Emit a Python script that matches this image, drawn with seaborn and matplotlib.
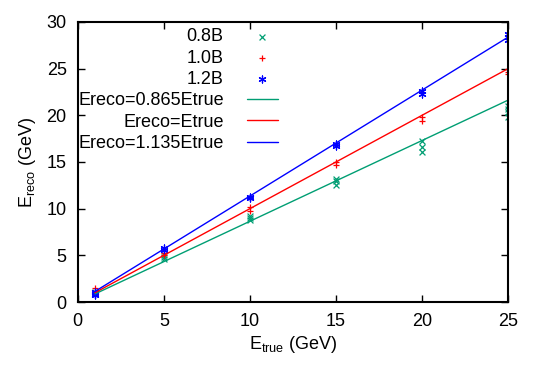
import numpy as np
import pandas as pd
import matplotlib
matplotlib.use('Agg')
import matplotlib.pyplot as plt
import seaborn as sns

# Data
e_true_08 = [1, 1, 1, 5, 5, 5, 10, 10, 10, 15, 15, 15, 20, 20, 20, 25, 25, 25, 25]
e_reco_08 = [0.9, 1.0, 1.1, 4.6, 4.8, 5.0, 8.8, 9.0, 9.2, 12.5, 13.0, 13.2,
             16.1, 16.6, 17.2, 19.8, 20.3, 20.7, 21.0]
e_true_10 = [1, 1, 5, 5, 10, 10, 15, 15, 20, 20, 25, 25]
e_reco_10 = [1.0, 1.5, 5.0, 5.3, 9.8, 10.2, 14.7, 15.0, 19.4, 19.8, 24.4, 24.6]
e_true_12 = [1, 1, 1, 5, 5, 10, 10, 15, 15, 20, 20, 25, 25, 25]
e_reco_12 = [0.8, 0.9, 1.1, 5.6, 5.8, 11.1, 11.3, 16.7, 16.9, 22.3, 22.6, 28.1, 28.4, 28.7]

fit_x = [1, 25]
slopes = [0.865, 1.0, 1.135]
fit_labels = ['Ereco=0.865Etrue', 'Ereco=Etrue', 'Ereco=1.135Etrue']

green = '#009e73'
red = '#ff0000'
blue = '#0000ff'

sns.set_style('ticks')
plt.rcParams['font.family'] = ['Liberation Sans', 'DejaVu Sans']
plt.rcParams['mathtext.fontset'] = 'custom'
plt.rcParams['mathtext.rm'] = 'Liberation Sans'
plt.rcParams['xtick.direction'] = 'in'
plt.rcParams['ytick.direction'] = 'in'
plt.rcParams['text.color'] = 'black'
plt.rcParams['axes.labelcolor'] = 'black'
plt.rcParams['xtick.color'] = 'black'
plt.rcParams['ytick.color'] = 'black'

fig = plt.figure(figsize=(5.4, 3.78), dpi=100)
ax = fig.add_axes([0.144, 0.201, 0.797, 0.741])

sns.scatterplot(x=e_true_08, y=e_reco_08, ax=ax, marker='x', color=green,
                s=18, linewidth=0.9, label='0.8B')
sns.scatterplot(x=e_true_10, y=e_reco_10, ax=ax, marker='+', color=red,
                s=25, linewidth=0.9, label='1.0B')
sns.scatterplot(x=e_true_12, y=e_reco_12, ax=ax, marker=(6, 2, 0), color=blue,
                s=25, linewidth=0.9, label='1.2B')

for k, lab, c in zip(slopes, fit_labels, [green, red, blue]):
    fit_y = [k * v for v in fit_x]
    sns.lineplot(x=fit_x, y=fit_y, ax=ax, color=c, linewidth=1.0, label=lab)

ax.set_xlim(0, 25)
ax.set_ylim(0, 30)
ax.set_xticks(np.arange(0, 26, 5))
ax.set_yticks(np.arange(0, 31, 5))
ax.tick_params(top=True, right=True, labelsize=13, length=5, width=1, pad=8)
for sp in ax.spines.values():
    sp.set_visible(True)
    sp.set_linewidth(1.5)
    sp.set_color('black')

ax.set_xlabel(r'E$_{\mathregular{true}}$ (GeV)', fontsize=13, labelpad=3)
ax.set_ylabel(r'E$_{\mathregular{reco}}$ (GeV)', fontsize=13, labelpad=6)

leg = ax.legend(loc='upper left', frameon=False, markerfirst=False,
                fontsize=13, handlelength=1.7, labelspacing=0.24,
                handletextpad=1.3, borderaxespad=0.0, borderpad=0.35,
                bbox_to_anchor=(-0.014, 1.0))

fig.savefig('out.png', dpi=100)
